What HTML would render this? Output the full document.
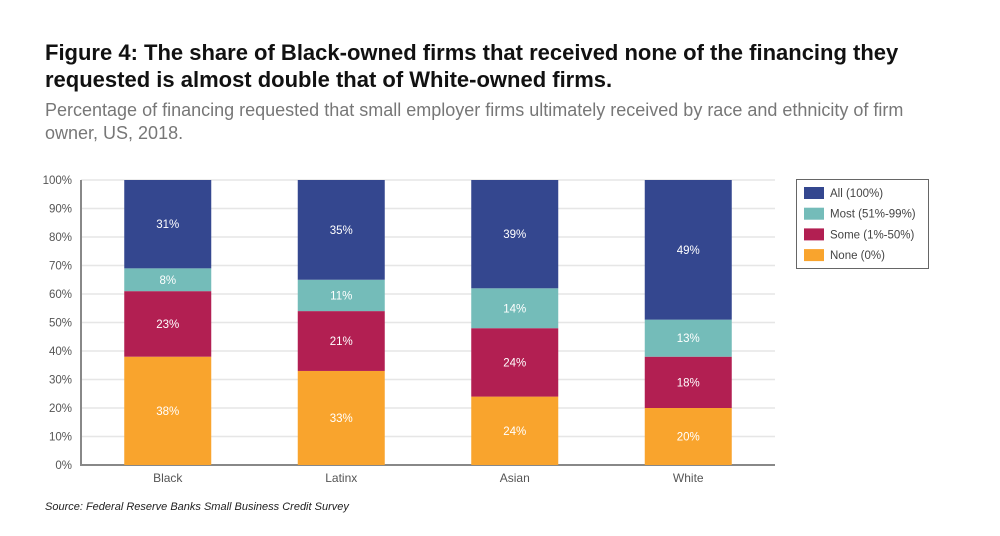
<!DOCTYPE html>
<html><head><meta charset="utf-8"><style>
body{margin:0;background:#fff;width:1000px;height:536px;overflow:hidden;font-family:"Liberation Sans",sans-serif}
.t{position:absolute;left:45px;top:39px;font-weight:bold;font-size:22px;line-height:27px;color:#111;white-space:nowrap}
.s{position:absolute;left:45px;top:99px;font-size:18px;line-height:23px;color:#777;width:880px}
.src{position:absolute;left:45px;top:501px;font-size:11px;font-style:italic;color:#222}
</style></head><body>
<div class="t">Figure 4: The share of Black-owned firms that received none of the financing they<br>requested is almost double that of White-owned firms.</div>
<div class="s">Percentage of financing requested that small employer firms ultimately received by race and ethnicity of firm owner, US, 2018.</div>
<svg id="c" width="1000" height="536" style="position:absolute;left:0;top:0"></svg>
<div class="src">Source: Federal Reserve Banks Small Business Credit Survey</div>
<script>
const categories=["Black","Latinx","Asian","White"];
const none=[38,33,24,20];
const some=[23,21,24,18];
const most=[8,11,14,13];
const all=[31,35,39,49];
const yTicks=[0,10,20,30,40,50,60,70,80,90,100];
const seriesNames=["All (100%)","Most (51%-99%)","Some (1%-50%)","None (0%)"];
const colors={all:"#34478f",most:"#74bcb9",some:"#b21f52",none:"#f9a42d"};
const NS="http://www.w3.org/2000/svg",svg=document.getElementById('c');
const X0=81,X1=775,Y0=465,Y1=180;
const y=v=>Y0-(Math.min(v,100)/100)*(Y0-Y1);
const bw=87,slot=(X1-X0)/4;
const xc=i=>X0+slot*(i+0.5);
function mk(t,a){const e=document.createElementNS(NS,t);for(const k in a)e.setAttribute(k,a[k]);svg.appendChild(e);return e;}
yTicks.forEach(v=>{
 const g=mk('line',{x1:X0,x2:X1,y1:y(v),y2:y(v),stroke:'#e6e6e6','stroke-width':1.5});
 
 
 const t=mk('text',{x:72,y:y(v)+4,'text-anchor':'end','font-size':11.5,fill:'#555'});t.textContent=v+'%';
 
 
});
const ax=mk('path',{d:`M${X0} ${Y1}V${Y0}H${X1}`,stroke:'#888','stroke-width':2,fill:'none'});


categories.forEach((c,i)=>{
 let base=0;
 [["none",none],["some",some],["most",most],["all",all]].forEach(([k,arr])=>{
  const v=arr[i];
  const r=mk('rect',{x:xc(i)-bw/2,y:y(base+v),width:bw,height:Math.max(0,y(base)-y(base+v)),fill:colors[k]});
  
  
  const t=mk('text',{x:xc(i),y:(y(base)+y(base+v))/2+4,'text-anchor':'middle','font-size':11.5,fill:'#fff'});t.textContent=v+'%';
  
  
  base+=v;
 });
 const l=mk('text',{x:xc(i),y:482,'text-anchor':'middle','font-size':12,fill:'#555'});l.textContent=c;
 
 
});
const lb=mk('rect',{x:796.5,y:179.5,width:132,height:89,fill:'#fff',stroke:'#666'});


const lc=[colors.all,colors.most,colors.some,colors.none];
seriesNames.forEach((n,i)=>{
 const sw=mk('rect',{x:804,y:187+i*20.7,width:20,height:12,fill:lc[i]});
 
 
 const t=mk('text',{x:830,y:197+i*20.7,'font-size':11.5,fill:'#444'});t.textContent=n;
 
 
});
</script>
</body></html>
